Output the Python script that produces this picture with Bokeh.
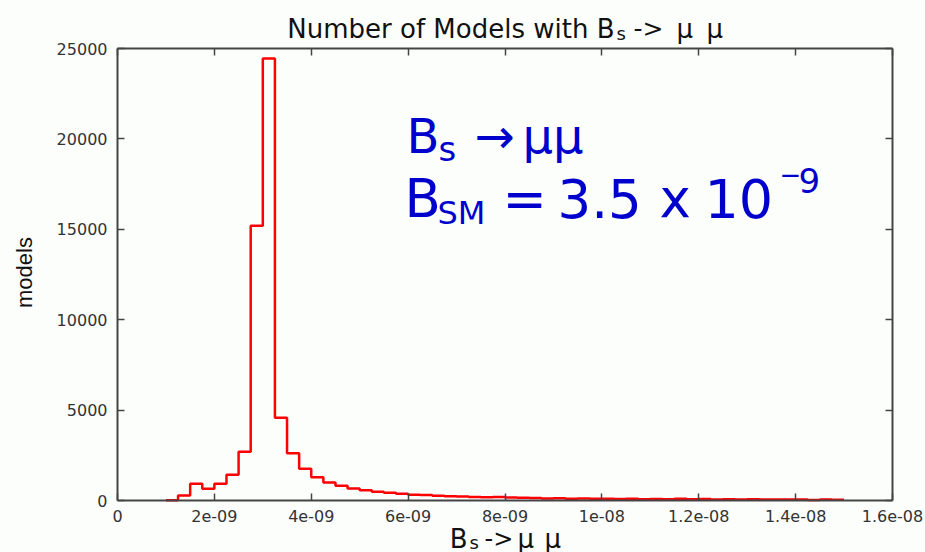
import math
from bokeh.plotting import figure
from bokeh.models import Label, LinearAxis, FixedTicker, Range1d
from bokeh.embed import file_html
from bokeh.resources import INLINE

# ---------------- data ----------------
# lower edges of the histogram bins (units of 1e-9)
bin_lo_e9 = [1.00, 1.25, 1.50, 1.75, 2.00, 2.25, 2.50, 2.75, 3.00, 3.25,
             3.50, 3.75, 4.00, 4.25, 4.50, 4.75, 5.00, 5.25, 5.50, 5.75,
             6.00, 6.25, 6.50, 6.75, 7.00, 7.25, 7.50, 7.75, 8.00, 8.25,
             8.50, 8.75, 9.00, 9.25, 9.50, 9.75, 10.00, 10.25, 10.50, 10.75,
             11.00, 11.25, 11.50, 11.75, 12.00, 12.25, 12.50, 12.75, 13.00, 13.25,
             13.50, 13.75, 14.00, 14.25, 14.50, 14.75]
bin_end_e9 = 15.00
counts = [20, 280, 925, 650, 925, 1420, 2700, 15200, 24450, 4580,
          2620, 1750, 1290, 1000, 810, 660, 570, 490, 430, 375,
          320, 300, 265, 230, 215, 200, 185, 190, 160, 150,
          140, 110, 120, 95, 110, 90, 100, 85, 95, 70,
          80, 65, 90, 70, 80, 60, 75, 55, 70, 55,
          60, 50, 60, 30, 55, 45]

x_ticks = [0, 2e-9, 4e-9, 6e-9, 8e-9, 1e-8, 1.2e-8, 1.4e-8, 1.6e-8]
x_tick_labels = ["0", "2e-09", "4e-09", "6e-09", "8e-09", "1e-08", "1.2e-08", "1.4e-08", "1.6e-08"]
y_ticks = [0, 5000, 10000, 15000, 20000, 25000]
y_tick_labels = ["0", "5000", "10000", "15000", "20000", "25000"]

# ---------------- layout ----------------
W, H = 925, 552
XMIN, XMAX = 0.0, 1.6e-8
YMIN, YMAX = 0.0, 25000.0
FL, FR, FT, FB = 117, 892, 48, 500   # pixel position of the plot box

def px2x(px):
    return XMIN + (px - FL) / (FR - FL) * (XMAX - XMIN)

def py2y(py):
    return YMIN + (FB - py) / (FB - FT) * (YMAX - YMIN)

BG = "#fcfefc"
AX = "#444444"
TXT = "#111111"
TICKTXT = "#333333"
BLUE = "#0000cc"
RED = "#ff0000"

p = figure(width=W, height=H, output_backend="svg", toolbar_location=None,
           x_range=Range1d(px2x(0), px2x(W)), y_range=Range1d(py2y(H), py2y(0)),
           x_axis_location=None, y_axis_location=None,
           min_border=0, min_border_left=0, min_border_right=0,
           min_border_top=0, min_border_bottom=0,
           background_fill_color=BG, border_fill_color=BG)
p.title.visible = False
p.outline_line_color = None
p.xgrid.visible = False
p.ygrid.visible = False

def make_axis(ticks, labels, loc, bounds, show_labels=True, standoff=8):
    ax = LinearAxis(fixed_location=loc, bounds=bounds)
    ax.ticker = FixedTicker(ticks=ticks)
    ax.major_label_overrides = {t: l for t, l in zip(ticks, labels)}
    ax.major_tick_in = 7
    ax.major_tick_out = 0
    ax.major_tick_line_color = AX
    ax.major_tick_line_width = 1.5
    ax.minor_tick_line_color = None
    ax.axis_line_color = AX
    ax.axis_line_width = 2
    ax.major_label_text_font = "DejaVu Sans"
    ax.major_label_text_font_size = "16px"
    ax.major_label_text_color = TICKTXT
    ax.major_label_standoff = standoff
    if not show_labels:
        ax.major_label_text_alpha = 0.0
    return ax

p.add_layout(make_axis(x_ticks, x_tick_labels, YMIN, (XMIN, XMAX), True, 9), "below")
p.add_layout(make_axis(y_ticks, y_tick_labels, XMIN, (YMIN, YMAX), True, 10), "left")
p.add_layout(make_axis(x_ticks, x_tick_labels, YMAX, (XMIN, XMAX), False), "above")
p.add_layout(make_axis(y_ticks, y_tick_labels, XMAX, (YMIN, YMAX), False), "right")

# ---------------- histogram outline ----------------
edges = [v * 1e-9 for v in bin_lo_e9] + [bin_end_e9 * 1e-9]
heights = counts + [counts[-1]]
p.step(x=edges, y=heights, mode="after", line_color=RED, line_width=2.5)

# ---------------- texts ----------------
def lab(px, py, text, size, color=TXT, font="DejaVu Sans", align="left",
        baseline="alphabetic", angle=0.0):
    p.add_layout(Label(x=px2x(px), y=py2y(py), text=text, text_font=font,
                       text_font_size=f"{size}px", text_color=color,
                       text_align=align, text_baseline=baseline, angle=angle))

# title: Number of Models with B_s -> mu mu
lab(614, 28, "Number of Models with B", 26, align="right")
lab(616, 33, "s", 18)
lab(633, 28, "->", 25)
lab(676, 28, "\u03bc", 26)
lab(706, 28, "\u03bc", 26)

# x axis label
lab(467, 538, "B", 26, align="right")
lab(469, 542, "s", 18)
lab(484, 538, "->", 24)
lab(517, 538, "\u03bc", 26)
lab(544, 538, "\u03bc", 26)

# y axis label
lab(24, 272, "models", 22, font="Liberation Sans", align="center",
    baseline="middle", angle=math.pi / 2)

# big blue annotation
F = "DejaVu Sans"
lab(406, 135, "B", 48, color=BLUE, font=F)
lab(438, 148, "s", 34, color=BLUE, font=F)
lab(474, 135, "\u2192", 48, color=BLUE, font=F)
lab(522, 135, "\u03bc\u03bc", 48, color=BLUE, font=F)
lab(404, 198, "B", 53, color=BLUE, font=F)
lab(437, 212, "SM", 32, color=BLUE, font=F)
lab(502, 198, "=", 53, color=BLUE, font=F)
lab(557, 198, "3.5", 53, color=BLUE, font=F)
lab(659, 198, "x", 53, color=BLUE, font=F)
lab(704, 198, "10", 54, color=BLUE, font=F)
lab(779, 173, "\u2212", 26, color=BLUE, font=F)
lab(798, 180, "9", 34, color=BLUE, font=F)

open("out.html", "w").write(file_html(p, INLINE))
